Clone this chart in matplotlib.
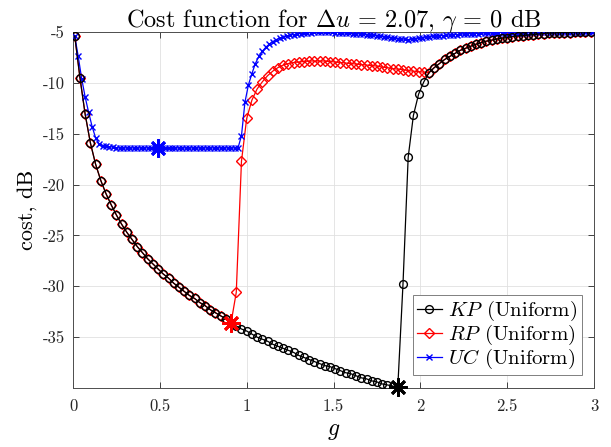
import numpy as np
import matplotlib
matplotlib.use('Agg')
import matplotlib.pyplot as plt

plt.rcParams['font.family'] = ['cmr10', 'DejaVu Serif']
plt.rcParams['mathtext.fontset'] = 'cm'
plt.rcParams['axes.unicode_minus'] = False
plt.rcParams['axes.formatter.use_mathtext'] = False

# sample grid of g for the KP / RP curves and for the UC curve
g_kp = np.linspace(0.01, 2.98, 100)
g_uc = np.linspace(0.01, 2.99, 150)

kp_cost = [
    -5.4, -9.5, -13.1, -15.9, -18.0, -19.6, -20.9, -22.0, -23.0, -23.9,
    -24.7, -25.4, -26.1, -26.7, -27.3, -27.8, -28.3, -28.8, -29.2, -29.7,
    -30.1, -30.5, -30.9, -31.2, -31.6, -31.9, -32.3, -32.6, -32.9, -33.2,
    -33.6, -33.9, -34.2, -34.4, -34.7, -35.0, -35.2, -35.4, -35.7, -35.9,
    -36.1, -36.3, -36.5, -36.8, -37.0, -37.2, -37.4, -37.6, -37.8, -37.9,
    -38.1, -38.3, -38.5, -38.6, -38.8, -39.0, -39.1, -39.3, -39.4, -39.6,
    -39.7, -39.8, -39.95, -29.8, -17.3, -13.2, -11.1, -9.9, -9.0, -8.5,
    -8.1, -7.7, -7.4, -7.1, -6.8, -6.6, -6.4, -6.2, -6.05, -5.9,
    -5.8, -5.7, -5.6, -5.55, -5.45, -5.4, -5.35, -5.3, -5.25, -5.2,
    -5.15, -5.1, -5.1, -5.05, -5.05, -5.05, -5.0, -5.0, -5.0, -5.0,
]

rp_cost = [
    -5.4, -9.5, -13.1, -15.9, -18.0, -19.6, -20.9, -22.0, -23.0, -23.9,
    -24.7, -25.4, -26.1, -26.7, -27.3, -27.8, -28.3, -28.8, -29.2, -29.7,
    -30.1, -30.5, -30.9, -31.2, -31.6, -31.9, -32.3, -32.6, -32.9, -33.2,
    -33.6, -30.6, -17.7, -13.5, -11.7, -10.6, -9.9, -9.3, -8.85, -8.5,
    -8.25, -8.1, -8.0, -7.95, -7.9, -7.85, -7.85, -7.85, -7.85, -7.9,
    -7.95, -8.0, -8.05, -8.1, -8.15, -8.2, -8.25, -8.3, -8.35, -8.45,
    -8.5, -8.6, -8.65, -8.7, -8.8, -8.85, -8.9, -8.95, -9.0, -8.5,
    -8.1, -7.7, -7.4, -7.1, -6.8, -6.6, -6.4, -6.2, -6.05, -5.9,
    -5.8, -5.7, -5.6, -5.55, -5.45, -5.4, -5.35, -5.3, -5.25, -5.2,
    -5.15, -5.1, -5.1, -5.05, -5.05, -5.05, -5.0, -5.0, -5.0, -5.0,
]

uc_cost = [
    -5.4, -7.4, -9.6, -11.4, -12.9, -14.3, -15.4, -16.0, -16.2, -16.2,
    -16.3, -16.3, -16.4, -16.4, -16.4, -16.4, -16.4, -16.4, -16.4, -16.4,
    -16.4, -16.4, -16.4, -16.4, -16.4, -16.4, -16.4, -16.4, -16.4, -16.4,
    -16.4, -16.4, -16.4, -16.4, -16.4, -16.4, -16.4, -16.4, -16.4, -16.4,
    -16.4, -16.4, -16.4, -16.4, -16.4, -16.4, -16.4, -16.4, -15.2, -11.9,
    -10.2, -9.1, -8.1, -7.4, -6.9, -6.5, -6.2, -5.95, -5.75, -5.6,
    -5.5, -5.4, -5.3, -5.25, -5.2, -5.15, -5.1, -5.1, -5.05, -5.0,
    -5.0, -5.0, -5.0, -5.0, -5.0, -5.05, -5.05, -5.1, -5.1, -5.1,
    -5.15, -5.15, -5.2, -5.2, -5.25, -5.25, -5.3, -5.35, -5.4, -5.45,
    -5.5, -5.55, -5.6, -5.65, -5.7, -5.7, -5.75, -5.7, -5.65, -5.6,
    -5.55, -5.5, -5.45, -5.4, -5.4, -5.35, -5.35, -5.3, -5.3, -5.25,
    -5.25, -5.2, -5.2, -5.2, -5.15, -5.15, -5.15, -5.1, -5.1, -5.1,
    -5.1, -5.05, -5.05, -5.05, -5.05, -5.05, -5.05, -5.05, -5.05, -5.05,
    -5.05, -5.0, -5.0, -5.0, -5.0, -5.0, -5.0, -5.0, -5.0, -5.0,
    -5.0, -5.0, -5.0, -5.0, -5.0, -5.0, -5.0, -5.0, -5.0, -5.0,
]

# minimum of each curve, highlighted with a big asterisk
kp_min = 62
rp_min = 30
uc_min = 24

fig = plt.figure(figsize=(6.11, 4.47), dpi=100)
ax = fig.add_axes([0.1195, 0.132, 0.8527, 0.7964])

ax.plot(g_kp, rp_cost, color='red', lw=0.9, marker='D', ms=4.8, mfc='none',
        mew=1.0, label='$RP$ (Uniform)', zorder=2.5)
ax.plot(g_kp, kp_cost, color='black', lw=0.9, marker='o', ms=5.6, mfc='none',
        mew=1.0, label='$KP$ (Uniform)', zorder=3)
ax.plot(g_uc, uc_cost, color='blue', lw=0.9, marker='x', ms=4.8, mew=1.0,
        label='$UC$ (Uniform)', zorder=2.8)

star = (8, 2, 0)
ax.plot(g_kp[kp_min], kp_cost[kp_min], ls='none', marker=star, ms=13, mew=2,
        color='black', zorder=4, clip_on=False)
ax.plot(g_kp[rp_min], rp_cost[rp_min], ls='none', marker=star, ms=13, mew=2,
        color='red', zorder=4)
ax.plot(g_uc[uc_min], uc_cost[uc_min], ls='none', marker=star, ms=13, mew=2,
        color='blue', zorder=4)

ax.set_xlim(0, 3)
ax.set_ylim(-40, -5)
ax.set_xticks([0, 0.5, 1, 1.5, 2, 2.5, 3])
ax.set_xticklabels(['0', '0.5', '1', '1.5', '2', '2.5', '3'])
ax.set_yticks([-35, -30, -25, -20, -15, -10, -5])
ax.set_yticklabels(['-35', '-30', '-25', '-20', '-15', '-10', '-5'])
ax.tick_params(direction='in', length=4, width=0.6, labelsize=12,
               top=True, right=True, colors='0.15')
ax.tick_params(axis='x', pad=8)
ax.tick_params(axis='y', pad=6)
ax.grid(True, color='0.88', lw=0.6)
ax.set_axisbelow(True)
for s in ax.spines.values():
    s.set_color('0.3')
    s.set_linewidth(0.7)

ax.set_title(r'Cost function for $\Delta u$ = 2.07, $\gamma$ = 0 dB', fontsize=17.5, pad=4)
ax.set_xlabel('$g$', fontsize=17, labelpad=4)
ax.set_ylabel('cost, dB', fontsize=16, labelpad=4)

handles, labels = ax.get_legend_handles_labels()
order = [1, 0, 2]
leg = ax.legend([handles[i] for i in order], [labels[i] for i in order],
                loc='lower right', fontsize=15, handlelength=1.2,
                handletextpad=0.3, borderaxespad=0.6, borderpad=0.2,
                labelspacing=0.0, fancybox=False, framealpha=1)
leg.get_frame().set_edgecolor('0.5')
leg.get_frame().set_linewidth(0.7)

fig.savefig('out.png', dpi=100)
